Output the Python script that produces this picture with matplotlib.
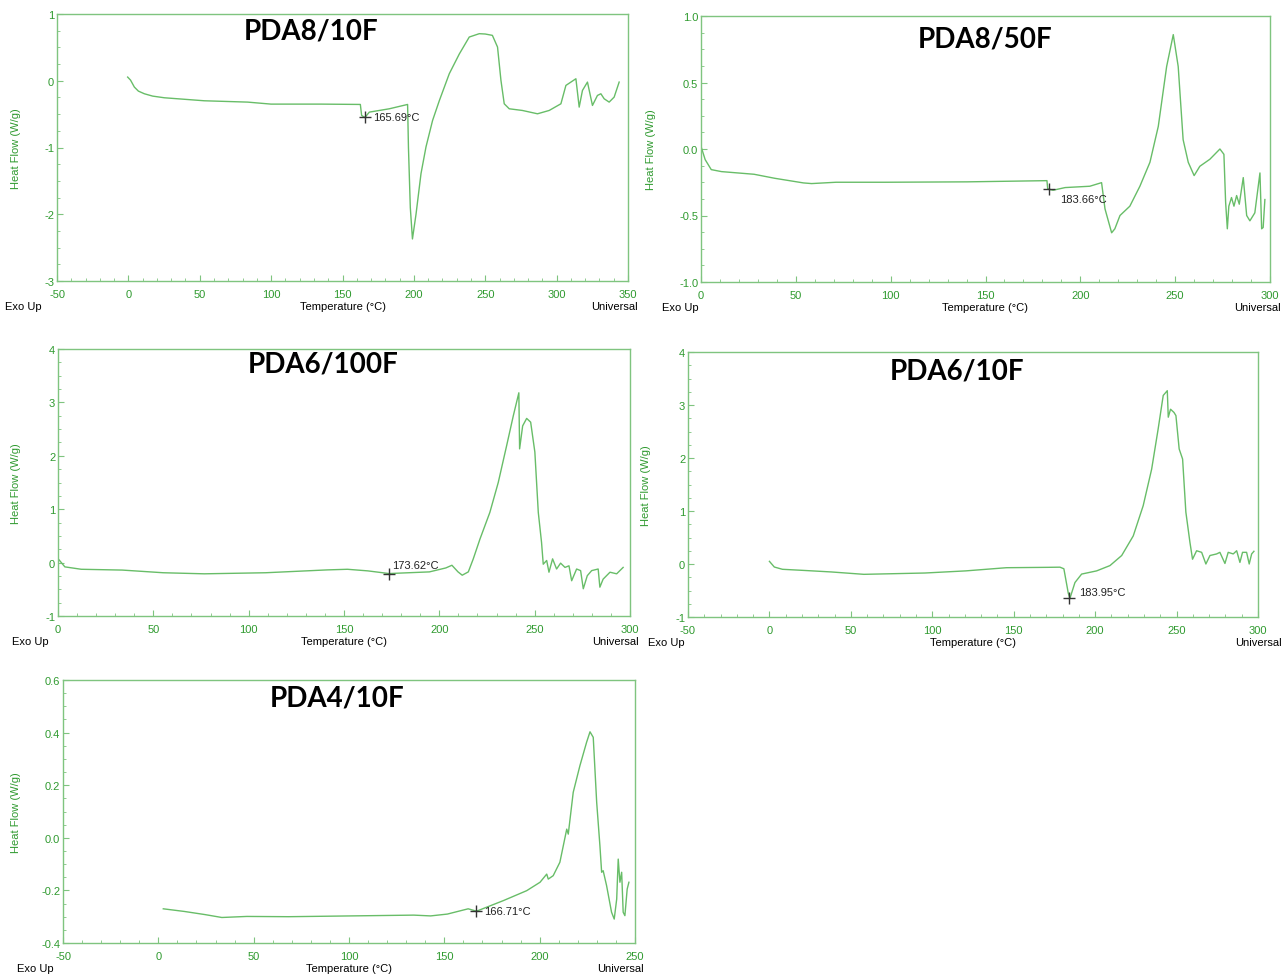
import matplotlib.pyplot as plt
from matplotlib.ticker import AutoMinorLocator, FormatStrFormatter, MultipleLocator

# ---- data ----
p1_T = [-0.5, 1.5, 4.2, 7, 11.2, 17, 25.2, 53.2, 83.6, 99.9, 135, 162.5, 163.4, 165.7, 168.8, 182.8,
        195.6, 196.2, 197.5, 199, 201.5, 205, 208.5, 213.1, 217.8, 224.8, 231.8, 238.8, 245.8, 250,
        255, 258.6, 261, 263.3, 266.8, 276, 286.6, 294.8, 303, 306.5, 313.5, 315.8, 318.1, 321.6,
        325.1, 328.6, 331, 333.3, 336.8, 340.3, 343.8]
p1_HF = [0.055, 0.01, -0.095, -0.155, -0.195, -0.23, -0.255, -0.30, -0.32, -0.35, -0.35, -0.355,
         -0.52, -0.55, -0.47, -0.42, -0.355, -1.0, -1.9, -2.37, -2.0, -1.39, -0.99, -0.595, -0.30,
         0.105, 0.40, 0.655, 0.705, 0.70, 0.68, 0.505, 0.005, -0.345, -0.42, -0.445, -0.495,
         -0.445, -0.345, -0.07, 0.03, -0.395, -0.145, -0.02, -0.37, -0.22, -0.195, -0.27, -0.32,
         -0.245, -0.02]

p2_T = [0, 2.2, 5.4, 10.8, 28, 38.8, 54, 58.3, 71.2, 97, 140.3, 182.4, 182.8, 185.6, 192, 205,
        211.2, 213, 216.5, 218.2, 220.9, 226.1, 231.4, 236.7, 241.1, 245.5, 249, 251.6, 254.2,
        256.9, 260, 263, 268.3, 273.6, 275.7, 276.6, 277.5, 278.3, 279.7, 281, 282.4, 283.8,
        285.9, 287.7, 289.4, 292, 294.7, 295.6, 296.4, 297.3]
p2_HF = [0.02, -0.08, -0.155, -0.17, -0.19, -0.22, -0.255, -0.26, -0.25, -0.25, -0.247, -0.238,
         -0.30, -0.31, -0.29, -0.28, -0.253, -0.45, -0.63, -0.60, -0.50, -0.43, -0.28, -0.10, 0.17,
         0.62, 0.86, 0.62, 0.07, -0.10, -0.20, -0.13, -0.077, 0.0, -0.04, -0.40, -0.60, -0.43,
         -0.365, -0.43, -0.35, -0.415, -0.215, -0.50, -0.54, -0.48, -0.18, -0.60, -0.59, -0.38]

p3_T = [0, 3.6, 12.2, 33.7, 55.2, 76.7, 108.9, 141, 151.8, 162.5, 173.6, 194.8, 203.4, 206.6,
        209.8, 212, 215.2, 217.8, 221.3, 226.5, 230.9, 235.3, 238.8, 241.7, 242.1, 243.7, 245.8,
        247.9, 250.1, 251.9, 253.6, 254.5, 256.3, 257.5, 259.4, 261.5, 263.6, 265.9, 268, 269.4,
        272, 274.1, 275.5, 277.6, 279.9, 283.3, 284.2, 285.9, 289.5, 293, 296.4]
p3_HF = [0.075, -0.08, -0.125, -0.14, -0.19, -0.21, -0.19, -0.137, -0.125, -0.155, -0.205, -0.174,
         -0.10, -0.05, -0.174, -0.236, -0.174, 0.07, 0.44, 0.94, 1.50, 2.19, 2.75, 3.18, 2.13,
         2.56, 2.70, 2.63, 2.07, 0.94, 0.38, -0.03, 0.04, -0.18, 0.07, -0.12, -0.01, -0.09, -0.06,
         -0.34, -0.12, -0.15, -0.49, -0.245, -0.15, -0.12, -0.46, -0.31, -0.18, -0.21, -0.09]

p4_T = [0, 3, 8, 20.5, 38, 58, 95.5, 120.5, 145.5, 170.5, 178.4, 180.8, 183.5, 184.5, 187.6,
        191.7, 200.9, 209.1, 216.3, 223.4, 229.5, 234.7, 238.7, 241.8, 244.3, 244.9, 246.3, 248.4,
        249.6, 251.6, 253.7, 255.7, 258.2, 259.8, 262.3, 265.4, 268, 270.5, 274.6, 276.6, 279.7,
        281.7, 284.8, 286.9, 288.9, 290.5, 293, 294.6, 296.1, 297.5]
p4_HF = [0.05, -0.057, -0.10, -0.12, -0.15, -0.195, -0.17, -0.13, -0.07, -0.063, -0.06, -0.09,
         -0.55, -0.65, -0.35, -0.19, -0.13, -0.03, 0.16, 0.53, 1.10, 1.79, 2.55, 3.18, 3.27, 2.77,
         2.92, 2.86, 2.80, 2.17, 1.98, 0.98, 0.41, 0.09, 0.25, 0.22, 0.0, 0.16, 0.19, 0.22, 0.01,
         0.22, 0.19, 0.25, 0.03, 0.22, 0.22, 0.0, 0.19, 0.24]

p5_T = [2.6, 13.6, 24.5, 33.3, 46.4, 68.3, 101.2, 134, 142.8, 151.6, 162.5, 166.9, 180.9, 193.2,
        200.2, 203.7, 204.5, 207.1, 210.6, 214.2, 215, 217.6, 221.1, 224.6, 226.4, 228.1, 229.9,
        231.6, 232.5, 233.3, 235.1, 237.7, 239.1, 240.4, 241.2, 242.1, 243, 243.8, 244.7, 245.9,
        246.8]
p5_HF = [-0.27, -0.28, -0.292, -0.303, -0.299, -0.30, -0.297, -0.294, -0.297, -0.29, -0.27, -0.279,
         -0.239, -0.201, -0.169, -0.138, -0.157, -0.144, -0.093, 0.033, 0.014, 0.173, 0.274, 0.363,
         0.403, 0.382, 0.135, -0.03, -0.131, -0.125, -0.182, -0.283, -0.309, -0.233, -0.081,
         -0.169, -0.131, -0.283, -0.296, -0.195, -0.169]

names = ["PDA8/10F", "PDA8/50F", "PDA6/100F", "PDA6/10F", "PDA4/10F"]
onset_T = [165.69, 183.66, 173.62, 183.95, 166.71]
onset_HF = [-0.55, -0.30, -0.21, -0.65, -0.28]

# ---- layout (pixels in the 1282x978 picture) ----
W, H = 1282, 978
boxes = [(57, 15, 628, 282), (701, 17, 1270, 283), (58, 350, 630, 617),
         (688, 353, 1258, 618), (63, 681, 635, 944)]
xlims = [(-50, 350), (0, 300), (0, 300), (-50, 300), (-50, 250)]
ylims = [(-3, 1), (-1, 1), (-1, 4), (-1, 4), (-0.4, 0.6)]
ysteps = [1, 0.5, 1, 1, 0.2]
yfmt = ["%d", "%.1f", "%d", "%d", "%.1f"]
title_pos = [(0.445, 0.94), (0.499, 0.914), (0.463, 0.944), (0.472, 0.932), (0.479, 0.935)]
exo_x = [5, 662, 12, 648, 17]
univ_x = [638, 1281, 639, 1282, 644]
ylab_x = [16, 651, 16, 646, 16]
lab_off = [(6, 0), (8, -7), (2, 6), (7, 5), (6, 0)]

curves = [(p1_T, p1_HF), (p2_T, p2_HF), (p3_T, p3_HF), (p4_T, p4_HF), (p5_T, p5_HF)]

spine_c = "#7fc47f"
tick_c = "#2f9a2f"
line_c = "#68bd68"

plt.rcParams['font.family'] = ['Liberation Sans', 'DejaVu Sans']
plt.rcParams['axes.unicode_minus'] = False

fig = plt.figure(figsize=(W / 100, H / 100), dpi=100)

for i, (T, HF) in enumerate(curves):
    l, t, r, b = boxes[i]
    ax = fig.add_axes([l / W, 1 - b / H, (r - l) / W, (b - t) / H])
    ax.plot(T, HF, color=line_c, lw=1.0)
    ax.set_xlim(*xlims[i])
    ax.set_ylim(*ylims[i])
    ax.xaxis.set_major_locator(MultipleLocator(50))
    ax.yaxis.set_major_locator(MultipleLocator(ysteps[i]))
    ax.yaxis.set_major_formatter(FormatStrFormatter(yfmt[i]))
    ax.xaxis.set_minor_locator(AutoMinorLocator(5))
    ax.yaxis.set_minor_locator(AutoMinorLocator(4))
    for s in ax.spines.values():
        s.set_color(spine_c)
        s.set_linewidth(1.0)
    ax.tick_params(which='both', direction='in', colors=spine_c, labelcolor=tick_c,
                   labelsize=8)
    ax.tick_params(axis='x', pad=6)
    ax.tick_params(axis='y', pad=2)
    ax.tick_params(which='major', length=4)
    ax.tick_params(which='minor', length=2)

    ax.text(*title_pos[i], names[i], transform=ax.transAxes, ha='center', va='center',
            fontsize=20, fontweight='bold', family=['Lato', 'DejaVu Sans'], color='black')

    # onset marker with its label
    ax.plot(onset_T[i], onset_HF[i], marker='+', ms=8, mew=1.0, color='#333333')
    ax.annotate(f"{onset_T[i]:.2f}°C", (onset_T[i], onset_HF[i]),
                xytext=lab_off[i], textcoords='offset points', ha='left', va='center',
                fontsize=8, color='#222222')

    # instrument style footer texts
    yb = 1 - (b + 25) / H
    fig.text(exo_x[i] / W, yb, "Exo Up", fontsize=8, ha='left', va='center')
    fig.text((l + r) / 2 / W, yb, "Temperature (°C)", fontsize=8, ha='center', va='center')
    fig.text(univ_x[i] / W, yb, "Universal", fontsize=8, ha='right', va='center')
    fig.text(ylab_x[i] / W, 1 - (t + b) / 2 / H, "Heat Flow (W/g)", fontsize=8,
             rotation=90, ha='center', va='center', color=tick_c)

fig.savefig("out.png", dpi=100)
